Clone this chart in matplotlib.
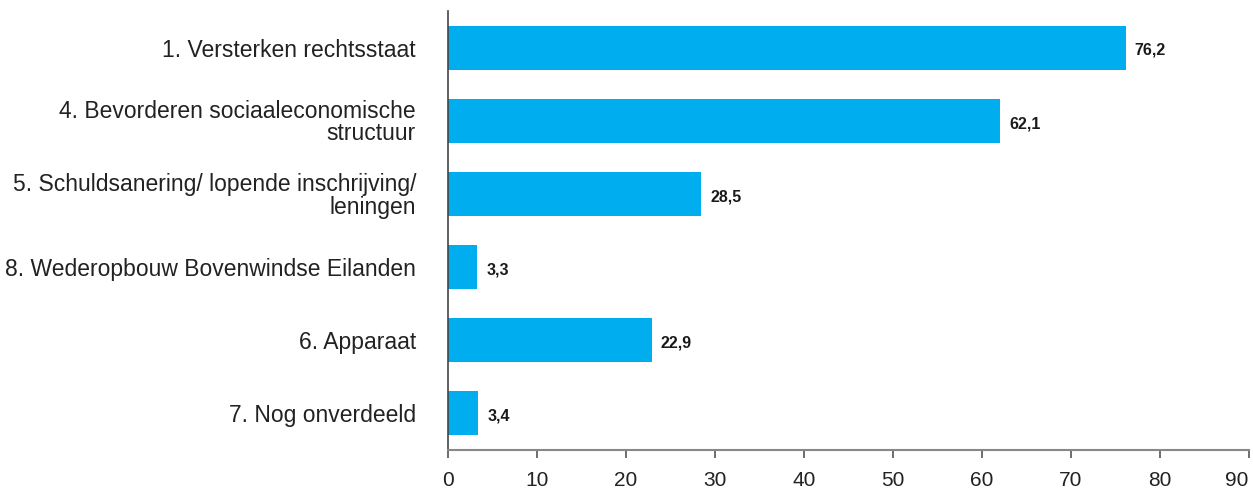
import matplotlib.pyplot as plt

categories = [
    '1. Versterken rechtsstaat',
    '4. Bevorderen sociaaleconomische\nstructuur',
    '5. Schuldsanering/ lopende inschrijving/\nleningen',
    '8. Wederopbouw Bovenwindse Eilanden',
    '6. Apparaat',
    '7. Nog onverdeeld',
]
values = [76.2, 62.1, 28.5, 3.3, 22.9, 3.4]
value_labels = ['76,2', '62,1', '28,5', '3,3', '22,9', '3,4']
xticks = [0, 10, 20, 30, 40, 50, 60, 70, 80, 90]

plt.rcParams['font.family'] = ['Liberation Sans', 'DejaVu Sans']

fig = plt.figure(figsize=(12.53, 4.90), dpi=100)
ax = fig.add_axes([0.3575, 0.0816, 0.639, 0.896])

pos = list(range(len(categories)))
ax.barh(pos, values, height=0.6, color='#00AEEF')

# value labels next to bars
for p, v, s in zip(pos, values, value_labels):
    ax.text(v + 1.0, p + 0.04, s, va='center', ha='left', fontsize=11.5,
            fontweight='bold', color='#1a1a1a')

ax.set_ylim(5.5, -0.5)
ax.set_xlim(0, 90)
ax.set_yticks(pos)
ax.set_yticklabels(categories, fontsize=16.5, color='#222222', linespacing=0.95,
                   multialignment='right')
ax.tick_params(axis='y', length=0, pad=23)
ax.set_xticks(xticks)
labels = ax.set_xticklabels([str(t) for t in xticks], fontsize=15, color='#222222')
labels[-1].set_horizontalalignment('right')
labels[-1].set_x(90)
ax.tick_params(axis='x', length=6, width=1.2, color='#555555', pad=9)

for side in ['top', 'right']:
    ax.spines[side].set_visible(False)
ax.spines['left'].set_color('#444444')
ax.spines['left'].set_linewidth(1.2)
ax.spines['bottom'].set_color('#888888')
ax.spines['bottom'].set_linewidth(1.5)

fig.savefig('out.png', dpi=100)
